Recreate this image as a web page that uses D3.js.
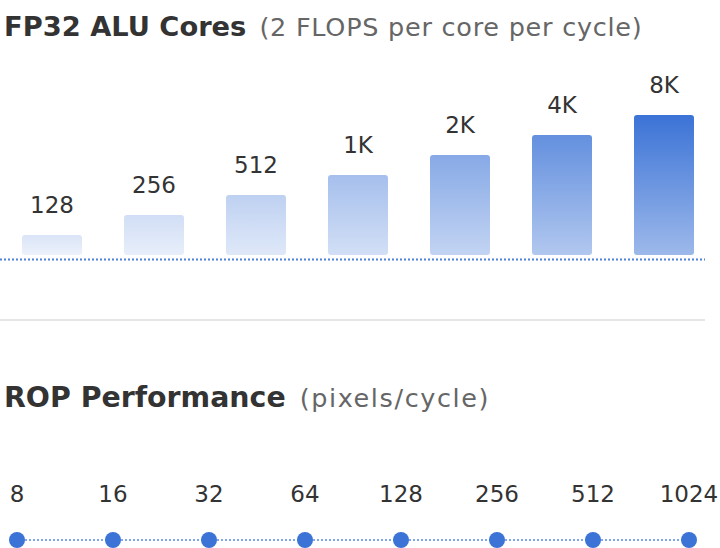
<!DOCTYPE html>
<html>
<head>
<meta charset="utf-8">
<script src="https://cdn.jsdelivr.net/npm/d3@7"></script>
<style>
  body { margin: 0; background: #fff; }
  svg { display: block; font-family: "DejaVu Sans", sans-serif; }
  .title { font-weight: 700; fill: #333; }
  .sub { fill: #666; }
  .val { fill: #333; }
</style>
</head>
<body>
<script>

// Data
var aluLabels = ["128", "256", "512", "1K", "2K", "4K", "8K"];
var aluValues = [128, 256, 512, 1024, 2048, 4096, 8192];
var ropLabels = ["8", "16", "32", "64", "128", "256", "512", "1024"];
var ropValues = [8, 16, 32, 64, 128, 256, 512, 1024];

// SVG Size
var width = 720,
    height = 548;

var blue = "#3b73d6";

var svg = d3.select("body").append("svg")
  .attr("width", width)
  .attr("height", height);

var defs = svg.append("defs");

// Titles
var t1 = svg.append("text")
  .attr("x", 4)
  .attr("y", 36);
t1.append("tspan").attr("class", "title").attr("font-size", 27.3).text("FP32 ALU Cores");
t1.append("tspan").attr("class", "sub").attr("font-size", 25.5)
  .attr("letter-spacing", 0.75).attr("dx", 13).text("(2 FLOPS per core per cycle)");

var t2 = svg.append("text")
  .attr("x", 4)
  .attr("y", 407);
t2.append("tspan").attr("class", "title").attr("font-size", 28.4).text("ROP Performance");
t2.append("tspan").attr("class", "sub").attr("font-size", 25.5)
  .attr("letter-spacing", 1.6).attr("dx", 14).text("(pixels/cycle)");

// Bar chart scales
var xBar = d3.scaleBand()
  .domain(aluLabels)
  .range([0, 716])
  .paddingInner(0.4118)
  .paddingOuter(0.2157);

var yBar = d3.scaleLog()
  .base(2)
  .domain([64, 8192])
  .range([255, 115]);

// how strong each bar is coloured
var shade = d3.scalePow()
  .exponent(1.6)
  .domain([0, aluValues.length - 1])
  .range([0.19, 1]);

aluValues.forEach(function(v, i) {
  var g = defs.append("linearGradient")
    .attr("id", "bar" + i)
    .attr("x1", 0).attr("y1", 0)
    .attr("x2", 0).attr("y2", 1);
  g.append("stop").attr("offset", "0%")
    .attr("stop-color", blue).attr("stop-opacity", shade(i));
  g.append("stop").attr("offset", "100%")
    .attr("stop-color", blue).attr("stop-opacity", shade(i) * 0.5);
});

svg.selectAll("rect.bar")
  .data(aluValues)
  .enter()
  .append("rect")
    .attr("class", "bar")
    .attr("x", function(d, i) { return xBar(aluLabels[i]); })
    .attr("y", function(d) { return yBar(d); })
    .attr("width", xBar.bandwidth())
    .attr("height", function(d) { return yBar(64) - yBar(d); })
    .attr("rx", 3)
    .attr("fill", function(d, i) { return "url(#bar" + i + ")"; });

svg.selectAll("text.barval")
  .data(aluValues)
  .enter()
  .append("text")
    .attr("class", "val")
    .attr("text-anchor", "middle")
    .attr("font-size", 23)
    .attr("x", function(d, i) { return xBar(aluLabels[i]) + xBar.bandwidth() / 2; })
    .attr("y", function(d) { return yBar(d) - 22; })
    .text(function(d, i) { return aluLabels[i]; });

// dotted baseline
svg.append("line")
  .attr("x1", 0).attr("x2", 705)
  .attr("y1", 259.5).attr("y2", 259.5)
  .attr("stroke", blue)
  .attr("stroke-opacity", 0.9)
  .attr("stroke-width", 1.8)
  .attr("stroke-dasharray", "2,2");

// separator
svg.append("line")
  .attr("x1", 0).attr("x2", 705)
  .attr("y1", 320).attr("y2", 320)
  .attr("stroke", "#e6e6e6")
  .attr("stroke-width", 2);

// ROP points
var xPt = d3.scalePoint()
  .domain(ropValues)
  .range([17, 689]);

svg.append("line")
  .attr("x1", xPt(ropValues[0])).attr("x2", xPt(ropValues[ropValues.length - 1]))
  .attr("y1", 540).attr("y2", 540)
  .attr("stroke", blue)
  .attr("stroke-opacity", 0.85)
  .attr("stroke-width", 1.5)
  .attr("stroke-dasharray", "2,2");

svg.selectAll("circle")
  .data(ropValues)
  .enter()
  .append("circle")
    .attr("cx", function(d) { return xPt(d); })
    .attr("cy", 540)
    .attr("r", 8)
    .attr("fill", blue);

svg.selectAll("text.ropval")
  .data(ropValues)
  .enter()
  .append("text")
    .attr("class", "val")
    .attr("text-anchor", "middle")
    .attr("font-size", 23)
    .attr("x", function(d) { return xPt(d); })
    .attr("y", 502)
    .text(function(d, i) { return ropLabels[i]; });

</script>
</body>
</html>
